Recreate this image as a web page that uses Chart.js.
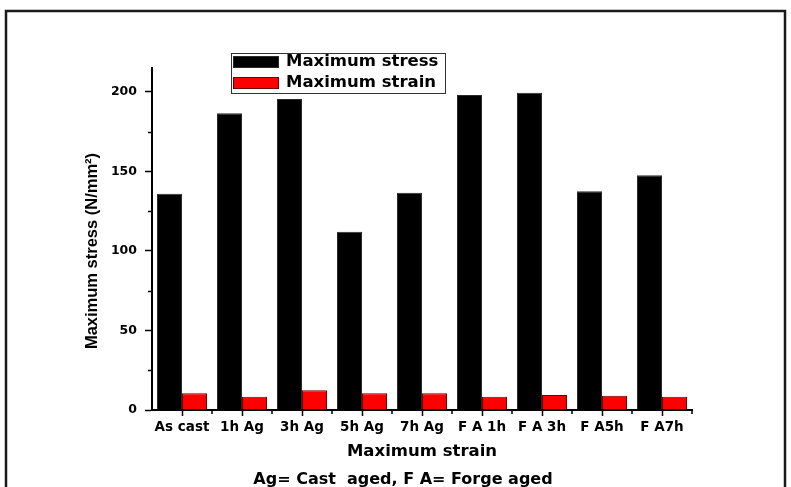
<!DOCTYPE html>
<html>
<head>
<meta charset="utf-8">
<script src="https://cdn.jsdelivr.net/npm/chart.js@4"></script>
<style>
    html, body { margin: 0; padding: 0; background: #fff; }
    #wrap { width: 791px; height: 487px; position: relative; }
</style>
</head>
<body>
<div id="wrap"><canvas id="chart" width="791" height="487"></canvas></div>
<script>
const categories = [ "As cast", "1h Ag", "3h Ag", "5h Ag", "7h Ag", "F A 1h", "F A 3h", "F A5h", "F A7h" ];
const maxStress = [ 136, 186.5, 195.5, 112, 136.5, 198, 199.5, 137.5, 147.5 ];
const maxStrain = [ 10.5, 8.4, 12.4, 10.5, 10.5, 8.4, 9.4, 9, 8.4 ];
const yTicks = [ 0, 50, 100, 150, 200 ];
const yMinorTicks = [ 25, 75, 125, 175 ];
const yTitle = "Maximum stress (N/mm\u00b2)";
const noteText = "Ag= Cast  aged, F A= Forge aged";

document.addEventListener("DOMContentLoaded", function() {
    const boldFont = "'DejaVu Sans', sans-serif";

    // frame, minor ticks, y title, legend box and the note under the axis
    const extras = {
        id: "extras",
        beforeDraw(chart) {
            const ctx = chart.ctx;
            ctx.save();
            ctx.fillStyle = "#fff";
            ctx.fillRect(0, 0, chart.width, chart.height);
            ctx.strokeStyle = "#1a1a1a";
            ctx.lineWidth = 2.5;
            ctx.strokeRect(6, 11, 779, 490);
            ctx.restore();
        },
        afterDraw(chart) {
            const ctx = chart.ctx;
            const x = chart.scales.x;
            const y = chart.scales.y;
            ctx.save();
            ctx.strokeStyle = "#000";
            ctx.lineWidth = 1.5;
            ctx.beginPath();
            yMinorTicks.forEach(v => {
                const py = Math.round(y.getPixelForValue(v)) + 0.5;
                ctx.moveTo(x.left - 4, py);
                ctx.lineTo(x.left, py);
            });
            for (let i = 1; i <= categories.length; i++) {
                const px = Math.round(x.left + (x.right - x.left) * i / categories.length);
                ctx.moveTo(px, y.bottom);
                ctx.lineTo(px, y.bottom + 4);
            }
            ctx.stroke();

            // y title, a little below the middle like the original
            ctx.save();
            ctx.translate(92, 251);
            ctx.rotate(-Math.PI / 2);
            ctx.font = "bold 16.5px 'Liberation Sans', Arial, sans-serif";
            ctx.textAlign = "center";
            ctx.textBaseline = "middle";
            ctx.fillStyle = "#000";
            ctx.fillText(yTitle, 0, 0);
            ctx.restore();

            // legend
            ctx.fillStyle = "#fff";
            ctx.fillRect(231, 53, 214, 40);
            ctx.strokeStyle = "#333";
            ctx.lineWidth = 1;
            ctx.strokeRect(231.5, 53.5, 214, 40);
            chart.data.datasets.forEach((ds, i) => {
                const top = i === 0 ? 56 : 77;
                ctx.fillStyle = ds.backgroundColor;
                ctx.fillRect(233, top, 46, 12);
                ctx.strokeStyle = ds.borderColor;
                ctx.strokeRect(233.5, top + 0.5, 45, 11);
                ctx.fillStyle = "#000";
                ctx.font = "bold 16.5px " + boldFont;
                ctx.textBaseline = "middle";
                ctx.textAlign = "left";
                ctx.fillText(ds.label, 286, top + 6);
            });

            ctx.font = "bold 16px " + boldFont;
            ctx.textAlign = "center";
            ctx.textBaseline = "middle";
            ctx.fillStyle = "#000";
            ctx.fillText(noteText, 403, 480);
            ctx.restore();
        }
    };

    new Chart(document.getElementById("chart"), {
        type: "bar",
        data: {
            labels: categories,
            datasets: [
                {
                    label: "Maximum stress",
                    data: maxStress,
                    backgroundColor: "#000000",
                    borderColor: "#2a2a2a",
                    borderWidth: 1
                },
                {
                    label: "Maximum strain",
                    data: maxStrain,
                    backgroundColor: "#ff0000",
                    borderColor: "#6a0000",
                    borderWidth: 1
                }
            ]
        },
        options: {
            responsive: false,
            animation: false,
            devicePixelRatio: 1,
            layout: { padding: { left: 0, top: 68, right: 99, bottom: 0 } },
            datasets: {
                bar: { categoryPercentage: 50 / 60, barPercentage: 1 }
            },
            plugins: {
                legend: { display: false },
                tooltip: { enabled: false }
            },
            scales: {
                x: {
                    afterFit: function(scale) { scale.height = 77; },
                    grid: {
                        offset: false,
                        drawOnChartArea: false,
                        tickLength: 6,
                        tickWidth: 1.5,
                        tickColor: "#000"
                    },
                    border: { display: true, color: "#000", width: 2 },
                    ticks: {
                        color: "#000",
                        padding: 3,
                        maxRotation: 0,
                        autoSkip: false,
                        font: { family: boldFont, weight: "bold", size: 13.5 }
                    },
                    title: {
                        display: true,
                        text: "Maximum strain",
                        color: "#000",
                        font: { family: boldFont, weight: "bold", size: 16.5 },
                        padding: { top: 0, bottom: 25 }
                    }
                },
                y: {
                    min: 0,
                    max: 215,
                    afterFit: function(scale) { scale.width = 152; },
                    afterBuildTicks: function(scale) {
                        scale.ticks = yTicks.map(v => ({ value: v }));
                    },
                    grid: {
                        drawOnChartArea: false,
                        tickLength: 7,
                        tickWidth: 1.5,
                        tickColor: "#000"
                    },
                    border: { display: true, color: "#000", width: 2 },
                    ticks: {
                        color: "#000",
                        padding: 8,
                        includeBounds: false,
                        font: { family: boldFont, weight: "bold", size: 12.5 }
                    }
                }
            }
        },
        plugins: [ extras ]
    });
});
</script>
</body>
</html>
